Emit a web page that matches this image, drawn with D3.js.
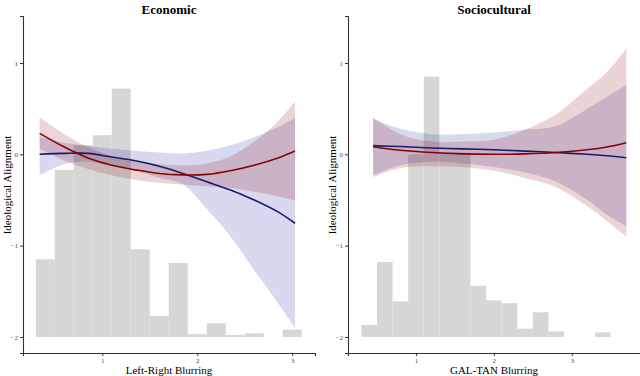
<!DOCTYPE html>
<html>
<head>
<meta charset="utf-8">
<script src="https://cdn.jsdelivr.net/npm/d3@7"></script>
<style>
  body { margin: 0; background: #fff; }
  svg text { font-family: "Liberation Serif", "Times New Roman", "DejaVu Serif", serif; }
</style>
</head>
<body>
<svg id="chart" width="640" height="376"></svg>
<script>
// histogram bins (left edge), bar tops drawn on the y scale
var binStarts = [0.3, 0.5, 0.7, 0.9, 1.1, 1.3, 1.5, 1.7, 1.9, 2.1, 2.3, 2.5, 2.7, 2.9, 3.1, 3.3]
var binWidth = 0.2
var histBase = -2
var econHist = [-1.15, -0.17, 0.10, 0.21, 0.72, -1.04, -1.77, -1.19, -1.97, -1.85, -1.98, -1.96, null, -1.92, null, null]
var socHist = [-1.87, -1.18, -1.61, 0.0, 0.85, 0.02, 0.02, -1.44, -1.60, -1.63, -1.91, -1.73, -1.94, null, null, -1.95]

// Economic fits
var econX = [0.34, 0.6, 0.85, 1.1, 1.35, 1.6, 1.85, 2.1, 2.35, 2.6, 2.85, 3.03]
var econRed = [0.23, 0.08, -0.04, -0.12, -0.17, -0.21, -0.225, -0.22, -0.18, -0.12, -0.04, 0.036]
var econRedHi = [0.405, 0.22, 0.08, -0.02, -0.07, -0.11, -0.12, -0.10, -0.02, 0.14, 0.36, 0.58]
var econRedLo = [0.06, -0.07, -0.16, -0.23, -0.28, -0.31, -0.33, -0.35, -0.37, -0.41, -0.46, -0.51]
var econBlue = [0.0, 0.01, 0.01, -0.03, -0.07, -0.13, -0.21, -0.30, -0.39, -0.50, -0.63, -0.755]
var econBlueHi = [0.19, 0.13, 0.09, 0.06, 0.04, 0.02, 0.01, 0.04, 0.10, 0.19, 0.30, 0.40]
var econBlueLo = [-0.23, -0.11, -0.08, -0.12, -0.18, -0.26, -0.33, -0.60, -0.90, -1.27, -1.63, -1.9]

// Sociocultural fits
var socX = [0.45, 0.8, 1.2, 1.6, 2.0, 2.4, 2.8, 3.2, 3.45, 3.7]
var socRed = [0.083, 0.045, 0.02, 0.005, 0.0, 0.005, 0.02, 0.05, 0.08, 0.127]
var socRedHi = [0.40, 0.22, 0.14, 0.14, 0.16, 0.27, 0.44, 0.72, 0.90, 1.16]
var socRedLo = [-0.25, -0.15, -0.13, -0.14, -0.18, -0.26, -0.36, -0.57, -0.73, -0.9]
var socBlue = [0.095, 0.085, 0.07, 0.06, 0.05, 0.035, 0.02, 0.0, -0.015, -0.037]
var socBlueHi = [0.39, 0.28, 0.22, 0.22, 0.24, 0.27, 0.31, 0.50, 0.63, 0.76]
var socBlueLo = [-0.23, -0.12, -0.08, -0.10, -0.14, -0.20, -0.30, -0.50, -0.66, -0.79]

var yTicks = [-2, -1, 0, 1]
var xTicks = [1, 2, 3]

var serif = '"Liberation Serif", "Times New Roman", serif'
var svg = d3.select('#chart')

var yScale = d3.scaleLinear().domain([-2.176, 1.515]).range([353, 16])

var panels = [
  {title: 'Economic', xlab: 'Left-Right Blurring', left: 23, right: 315, domain: [0.165, 3.24],
   hist: econHist, xs: econX, red: econRed, redHi: econRedHi, redLo: econRedLo,
   blue: econBlue, blueHi: econBlueHi, blueLo: econBlueLo},
  {title: 'Sociocultural', xlab: 'GAL-TAN Blurring', left: 348, right: 640, domain: [0.128, 3.876],
   hist: socHist, xs: socX, red: socRed, redHi: socRedHi, redLo: socRedLo,
   blue: socBlue, blueHi: socBlueHi, blueLo: socBlueLo}
]

panels.forEach(function(p) {
  var x = d3.scaleLinear().domain(p.domain).range([p.left, p.right])
  var g = svg.append('g')

  // histogram
  var bars = binStarts.map(function(b, i) { return {x0: b, top: p.hist[i]} })
    .filter(function(d) { return d.top !== null })
  g.selectAll('rect.bar')
    .data(bars)
    .join('rect')
    .attr('class', 'bar')
    .attr('x', function(d) { return x(d.x0) })
    .attr('width', function(d) { return x(d.x0 + binWidth) - x(d.x0) })
    .attr('y', function(d) { return yScale(d.top) })
    .attr('height', function(d) { return yScale(histBase) - yScale(d.top) })
    .style('fill', '#d6d6d6')

  var pts = p.xs.map(function(v, i) {
    return {x: v, red: p.red[i], redHi: p.redHi[i], redLo: p.redLo[i],
            blue: p.blue[i], blueHi: p.blueHi[i], blueLo: p.blueLo[i]}
  })
  var curve = d3.curveCatmullRom.alpha(0.5)

  function band(hi, lo) {
    return d3.area().curve(curve)
      .x(function(d) { return x(d.x) })
      .y0(function(d) { return yScale(d[lo]) })
      .y1(function(d) { return yScale(d[hi]) })
  }
  function line(k) {
    return d3.line().curve(curve)
      .x(function(d) { return x(d.x) })
      .y(function(d) { return yScale(d[k]) })
  }

  g.append('path').datum(pts).attr('d', band('blueHi', 'blueLo'))
    .style('fill', '#1a1a9a').style('opacity', 0.17)
  g.append('path').datum(pts).attr('d', band('redHi', 'redLo'))
    .style('fill', '#8b0000').style('opacity', 0.17)
  g.append('path').datum(pts).attr('d', line('blue'))
    .style('fill', 'none').style('stroke', '#191970').style('stroke-width', 1.6)
  g.append('path').datum(pts).attr('d', line('red'))
    .style('fill', 'none').style('stroke', '#8b0000').style('stroke-width', 1.6)

  // axes
  var xAxis = d3.axisBottom(x).tickValues(xTicks).tickFormat(d3.format('d')).tickSize(3).tickPadding(2)
  var yAxis = d3.axisLeft(yScale).tickValues(yTicks).tickFormat(d3.format('d')).tickSize(3).tickPadding(2)
  var gx = g.append('g').attr('transform', 'translate(0,353)').call(xAxis)
  var gy = g.append('g').attr('transform', 'translate(' + p.left + ',0)').call(yAxis)
  ;[gx, gy].forEach(function(a) {
    a.attr('font-family', serif).attr('font-size', 7)
    a.select('.domain').attr('stroke', '#333').attr('stroke-width', 1.1)
    a.selectAll('.tick line').attr('stroke', '#333')
    a.selectAll('.tick text').attr('fill', '#4d4d4d')
  })

  var cx = (p.left + p.right) / 2
  g.append('text').attr('x', cx).attr('y', 14).attr('text-anchor', 'middle')
    .attr('font-family', serif)
    .style('font-size', '13px').style('font-weight', 'bold').text(p.title)
  g.append('text').attr('x', cx).attr('y', 374).attr('text-anchor', 'middle')
    .attr('font-family', serif)
    .style('font-size', '11px').text(p.xlab)
  var ly = 185, lx = p.left - 12
  g.append('text').attr('x', lx).attr('y', ly).attr('text-anchor', 'middle')
    .attr('font-family', serif)
    .attr('transform', 'rotate(-90 ' + lx + ' ' + ly + ')')
    .style('font-size', '11px').text('Ideological Alignment')
})
</script>
</body>
</html>
